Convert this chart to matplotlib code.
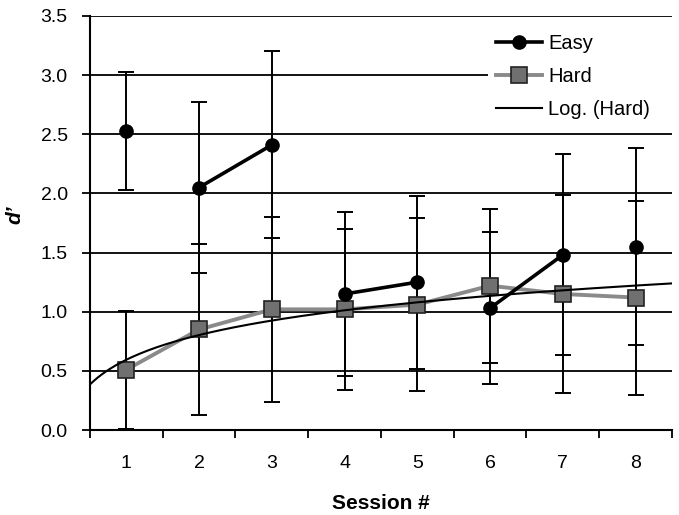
import numpy as np
import matplotlib
matplotlib.use("Agg")
import matplotlib.pyplot as plt
from matplotlib.ticker import FixedLocator
from matplotlib.patches import Rectangle

plt.rcParams['font.family'] = ['Liberation Sans', 'DejaVu Sans']

sessions = [1, 2, 3, 4, 5, 6, 7, 8]
easy = [2.53, 2.05, 2.41, 1.15, 1.25, 1.03, 1.48, 1.55]
easy_err = [0.50, 0.72, 0.79, 0.69, 0.73, 0.64, 0.85, 0.83]
hard = [0.51, 0.85, 1.02, 1.02, 1.06, 1.22, 1.15, 1.12]
hard_err = [0.50, 0.72, 0.78, 0.68, 0.73, 0.65, 0.84, 0.82]
# sessions connected by the Easy line
easy_groups = [[1], [2, 3], [4, 5], [6, 7], [8]]
yticks = [0.0, 0.5, 1.0, 1.5, 2.0, 2.5, 3.0, 3.5]

fig = plt.figure(figsize=(6.79, 5.15), dpi=100)
ax = fig.add_axes([0.1325, 0.165, 0.857, 0.804])

for y in yticks:
    ax.axhline(y, color='black', lw=1.3, zorder=1)

# error bars
ax.errorbar(sessions, hard, yerr=hard_err, fmt='none', ecolor='black',
            elinewidth=1.4, capsize=6, capthick=1.4, zorder=2)
ax.errorbar(sessions, easy, yerr=easy_err, fmt='none', ecolor='black',
            elinewidth=1.4, capsize=6, capthick=1.4, zorder=2)

# Hard
hard_line, = ax.plot(sessions, hard, color='#8a8a8a', lw=2.8, marker='s',
                     markersize=11, markerfacecolor='#707070',
                     markeredgecolor='#222222', markeredgewidth=1.2, zorder=3)

# Log trend of Hard
b, a = np.polyfit(np.log(sessions), hard, 1)
xt = np.linspace(0.5, 8.5, 300)
trend_line, = ax.plot(xt, a + b * np.log(xt), color='black', lw=1.5, zorder=4)

# Easy
idx = {s: i for i, s in enumerate(sessions)}
easy_line = None
for g in easy_groups:
    ln, = ax.plot(g, [easy[idx[s]] for s in g], color='black', lw=2.6,
                  marker='o', markersize=9.5, zorder=5)
    easy_line = easy_line or ln

ax.set_xlim(0.5, 8.5)
ax.set_ylim(0, 3.5)
ax.set_yticks(yticks)
ax.set_yticklabels([f"{v:.1f}" for v in yticks])
ax.set_xticks(sessions)
ax.set_xticklabels([str(s) for s in sessions])
ax.xaxis.set_minor_locator(FixedLocator(np.arange(0.5, 9.0, 1.0)))
ax.tick_params(axis='x', which='major', length=0, pad=18, labelsize=14)
ax.tick_params(axis='x', which='minor', length=6, width=1.3, direction='out')
ax.tick_params(axis='y', which='major', length=6, width=1.3, direction='out',
               labelsize=14, pad=10)

for s in ['top', 'right']:
    ax.spines[s].set_visible(False)
for s in ['left', 'bottom']:
    ax.spines[s].set_linewidth(1.5)
    ax.spines[s].set_zorder(6)

ax.set_xlabel('Session #', fontsize=15, fontweight='bold', labelpad=16)
ax.set_ylabel('d\u2019', fontsize=15, fontweight='bold', style='italic')
ax.yaxis.set_label_coords(-0.113, 0.52)

# white background behind the legend
ax.add_patch(Rectangle((0.684, 0.765), 0.316, 0.21, transform=ax.transAxes,
                       facecolor='white', edgecolor='none', zorder=8))

leg = ax.legend([easy_line, hard_line, trend_line], ['Easy', 'Hard', 'Log. (Hard)'],
                loc='upper left', bbox_to_anchor=(0.684, 0.975), frameon=False,
                fontsize=14.5, handlelength=2.3, handletextpad=0.3,
                labelspacing=0.68, borderpad=0.4, borderaxespad=0.0)
leg.set_zorder(10)

fig.savefig('out.png', dpi=100)
